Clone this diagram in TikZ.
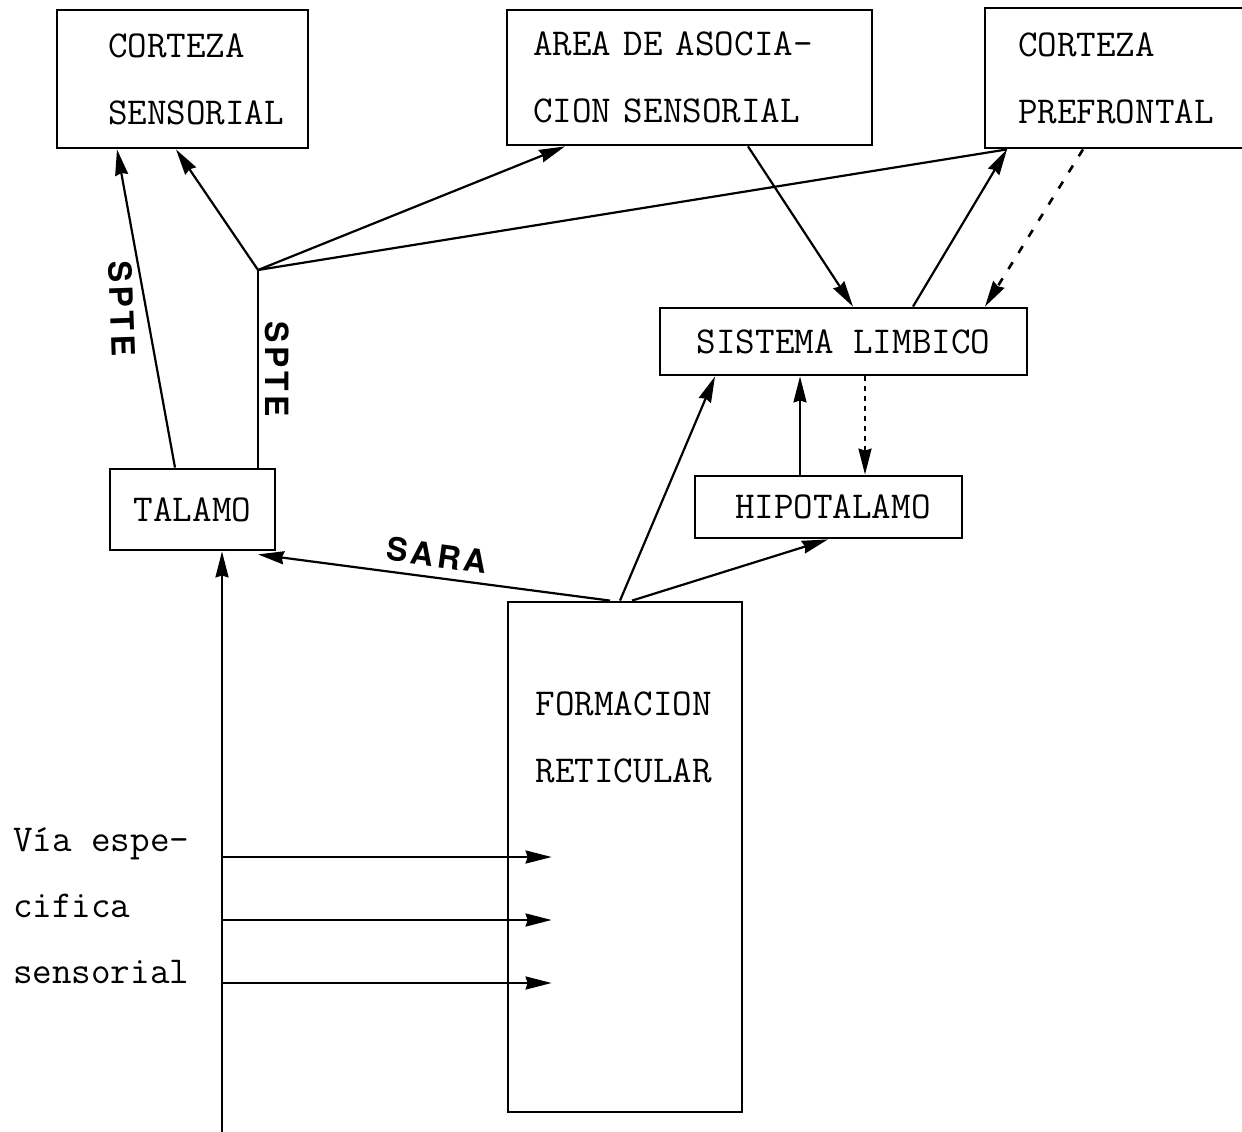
\documentclass[tikz,border=0pt]{standalone}
\usepackage{fontspec}
\newfontfamily\tagfont{TeX Gyre Heros}[LetterSpace=12]
\usetikzlibrary{arrows.meta,calc}

\tikzset{every picture/.style={line width=2.2pt}}
\tikzset{
  boxfont/.style={font=\fontsize{38}{67}\selectfont\ttfamily},
  box/.style={boxfont, draw, line width=2.8pt, inner sep=0pt, align=left},
  arr/.style={-{Stealth[length=26pt,width=13pt,inset=2pt]}},
  dasharr/.style={arr, line width=2.6pt, dash pattern=on 8pt off 11pt},
  dotarr/.style={arr, line width=2.2pt, dash pattern=on 5pt off 5pt},
  tag/.style={font=\fontsize{32}{32}\selectfont\tagfont\bfseries, inner sep=0pt},
}

\begin{document}
\begin{tikzpicture}[x=1pt,y=1pt,yscale=-1]
\useasboundingbox (0,0) rectangle (1242,1132);

% boxes
\node[box, text width=149pt, inner xsep=51pt, minimum height=138pt] (cs) at (182.5,79) {CORTEZA\\SENSORIAL};
\node[box, text width=313pt, inner xsep=26pt, minimum height=135pt] (asoc) at (689.5,77.5) {AREA DE ASOCIA-\\CION SENSORIAL};
\node[box, text width=199pt, inner xsep=33pt, minimum height=140pt] (pref) at (1117.5,78) {CORTEZA\\PREFRONTAL};
\node[box, minimum width=367pt, minimum height=67pt] (limb) at (843.5,341.5) {SISTEMA LIMBICO};
\node[box, text width=187pt, inner xsep=40pt, minimum height=62pt] (hipo) at (828.5,507) {HIPOTALAMO};
\node[box, minimum width=165pt, minimum height=81pt] (tal) at (192.5,509.5) {TALAMO};
\node[box, minimum width=234pt, minimum height=510pt] (form) at (625,857) {};
\node[boxfont, align=left, inner sep=0pt, anchor=north west] (formtxt) at ($(form.north west)+(28,90)$) {FORMACION\\RETICULAR};

% free ends
\coordinate (jn) at (258,270);
\coordinate (vin) at (222,1132);

% talamo to cortex
\draw[arr] ($(tal.north)+(-17.5,0)$) -- node[tag, xshift=-24pt, rotate=-88] {SPTE} ($(cs.south)+(-65.5,0)$);
\draw ($(tal.north)+(65.5,0)$) -- node[tag, xshift=19pt, rotate=-90] {SPTE} (jn);
\draw[arr] (jn) -- ($(cs.south)+(-6.5,0)$);
\draw[arr] (jn) -- ($(asoc.south)+(-124.5,0)$);
\draw (jn) -- ($(pref.south)+(-110.5,0)$);

% limbic loop
\draw[arr] ($(asoc.south)+(58.5,0)$) -- ($(limb.north)+(9.5,0)$);
\draw[arr] ($(limb.north)+(69.5,0)$) -- ($(pref.south)+(-110.5,0)$);
\draw[dasharr] ($(pref.south)+(-34.5,0)$) -- ($(limb.north)+(141.5,0)$);
\draw[dotarr] ($(limb.south)+(21.5,0)$) -- ($(hipo.north)+(36.5,0)$);
\draw[arr] ($(hipo.north)+(-28.5,0)$) -- ($(limb.south)+(-43.5,0)$);

% reticular formation
\draw[arr] ($(form.north)+(-5,0)$) -- ($(limb.south)+(-128.5,0)$);
\draw[arr] ($(form.north)+(7,0)$) -- ($(hipo.south)+(-0.5,0)$);
\draw[arr] ($(form.north)+(-15,0)$) -- node[tag, xshift=3pt, yshift=22pt, rotate=-8] {SARA} ($(tal.south)+(65.5,3)$);

% specific pathway
\draw[arr] (vin) -- ($(tal.south)+(29.5,0)$);
\foreach \dy in {0,63,126}
  \draw[arr] ($(form.west)+(-286,\dy)$) -- ($(form.west)+(45,\dy)$);
\node[font=\fontsize{38}{66}\selectfont\ttfamily, align=left, inner sep=0pt, anchor=west] (via) at (12,906) {Vía espe-\\cifica\\sensorial};

\end{tikzpicture}
\end{document}
